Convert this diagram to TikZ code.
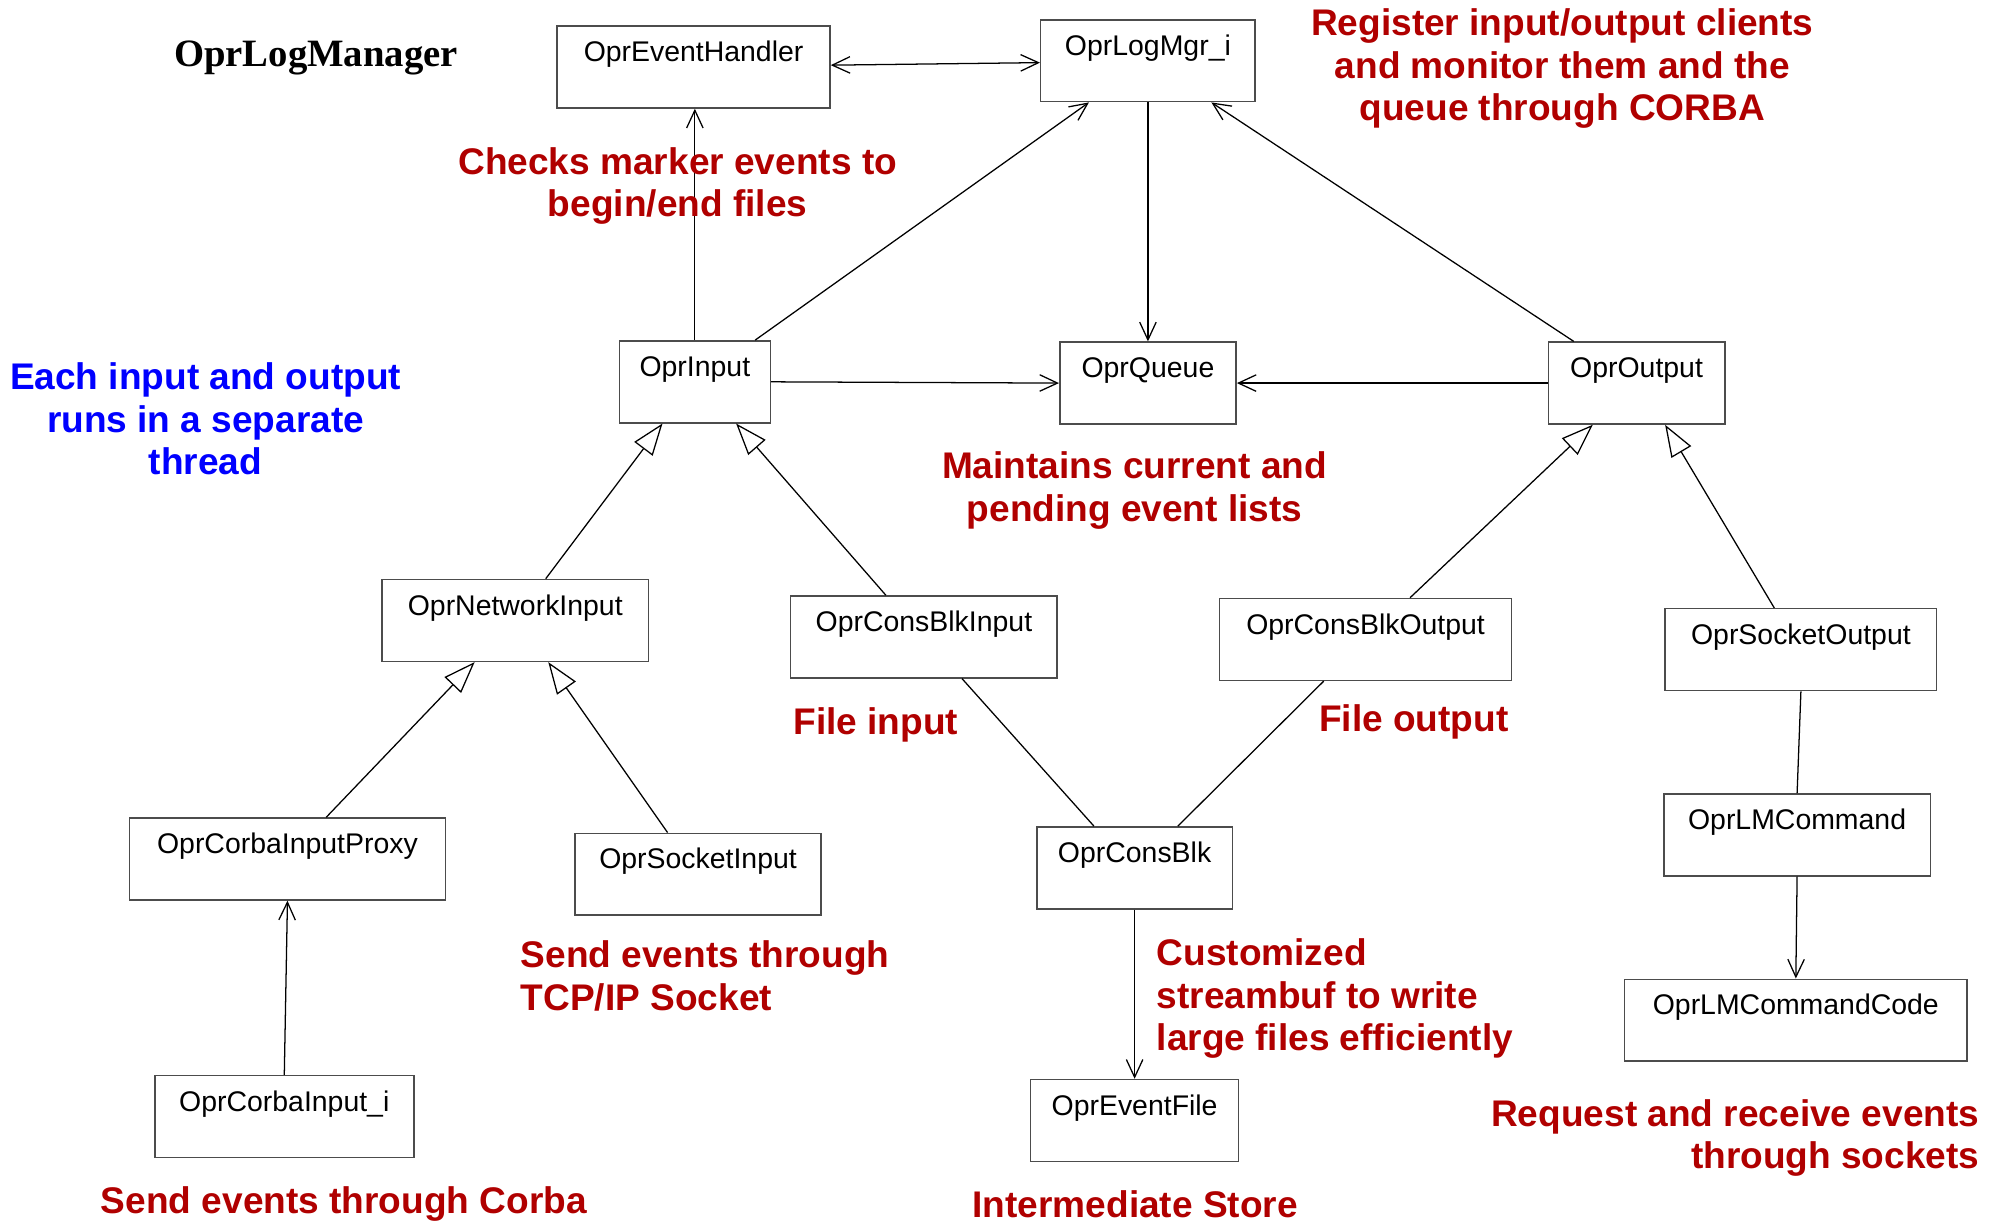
\documentclass[tikz,border=0pt]{standalone}
\usepackage{fontspec}
\setmainfont{Liberation Sans}
\newfontfamily\titlefont{Liberation Serif}
\usepackage{tikz}
\usetikzlibrary{arrows.meta,calc}
\usepackage{xcolor}
\definecolor{notered}{RGB}{176,0,0}
\definecolor{noteblue}{RGB}{0,0,255}

\tikzset{
  barb/.tip={Straight Barb[length=7pt,width=6.5pt]},
  tri/.tip={Triangle[open,length=12.5pt,width=9pt]},
  cls/.style={draw=black!70,line width=0.6pt,anchor=north,inner sep=0pt,
    font=\fontsize{11.2}{13}\selectfont,text height=14pt,text depth=18.25pt},
  link/.style={line width=0.5pt},
  assoc/.style={link,-barb},
  inherit/.style={link,-tri},
  note/.style={text=notered,inner sep=0pt,align=center,
    font=\fontsize{14.6}{16.75}\selectfont\bfseries},
}

\begin{document}
\begin{tikzpicture}[x=0.5pt,y=-0.5pt]
    \useasboundingbox (0,0) rectangle (1568,963);
    % Title
    \node[font=\titlefont\bfseries\fontsize{15.25}{18}\selectfont] (title) at (249,46) {OprLogManager};
    % Classes
    \node[cls,minimum width=107.5pt] (evh)     at (546.5,20)  {OprEventHandler};
    \node[cls,minimum width=84.5pt]  (lmgr)    at (904.5,15)  {OprLogMgr\_i};
    \node[cls,minimum width=59.5pt]  (inp)     at (547.5,268) {OprInput};
    \node[cls,minimum width=69.5pt]  (que)     at (904.5,269) {OprQueue};
    \node[cls,minimum width=69.5pt]  (outp)    at (1289.5,269) {OprOutput};
    \node[cls,minimum width=105pt]   (net)     at (406,456)   {OprNetworkInput};
    \node[cls,minimum width=105pt]   (cbin)    at (728,469)   {OprConsBlkInput};
    \node[cls,minimum width=115pt]   (cbout)   at (1076,471)  {OprConsBlkOutput};
    \node[cls,minimum width=107pt]   (sockout) at (1419,479)  {OprSocketOutput};
    \node[cls,minimum width=124.5pt] (proxy)   at (226.5,644) {OprCorbaInputProxy};
    \node[cls,minimum width=97pt]    (sockin)  at (550,656)   {OprSocketInput};
    \node[cls,minimum width=77pt]    (cblk)    at (894,651)   {OprConsBlk};
    \node[cls,minimum width=105pt]   (lmc)     at (1416,625)  {OprLMCommand};
    \node[cls,minimum width=135pt]   (lmcc)    at (1415,771)  {OprLMCommandCode};
    \node[cls,minimum width=102pt]   (corba)   at (224,847)   {OprCorbaInput\_i};
    \node[cls,minimum width=82pt]    (evf)     at (894,850)   {OprEventFile};
    % Associations
    \draw[link,barb-barb] ($(evh.east)+(0,-1.5)$) -- ($(lmgr.west)+(0,1.5)$);
    \draw[assoc] (inp.north) -- (inp.north |- evh.south);
    \draw[assoc] ($(inp.north)+(47.5,0)$) -- ($(lmgr.south)+(-46.5,0)$);
    \draw[assoc] (lmgr.south) -- (que.north);
    \draw[assoc] ($(outp.north)+(-49.5,0)$) -- ($(lmgr.south)+(50,0)$);
    \draw[assoc] (inp.east) -- (que.west);
    \draw[assoc] (outp.west) -- (que.east);
    \draw[assoc] (cblk.south) -- (evf.north);
    \draw[assoc] (lmc.south) -- (lmcc.north);
    \draw[assoc] (corba.north) -- (proxy.south);
    \draw[link] ($(cbin.south)+(30,0)$) -- ($(cblk.north)+(-32,0)$);
    \draw[link] ($(cbout.south)+(-33,0)$) -- ($(cblk.north)+(34,0)$);
    \draw[link] (sockout.south) -- (lmc.north);
    % Inheritance
    \draw[inherit] ($(net.north)+(24,0)$) -- ($(inp.south)+(-25.5,0)$);
    \draw[inherit] ($(cbin.north)+(-30,0)$) -- ($(inp.south)+(32.5,0)$);
    \draw[inherit] ($(cbout.north)+(35,0)$) -- ($(outp.south)+(-34.5,0)$);
    \draw[inherit] ($(sockout.north)+(-21,0)$) -- ($(outp.south)+(22.5,0)$);
    \draw[inherit] ($(proxy.north)+(30.5,0)$) -- ($(net.south)+(-32,0)$);
    \draw[inherit] ($(sockin.north)+(-24,0)$) -- ($(net.south)+(26,0)$);
    % Notes
    \node[note] (reg) at (1231,54) {Register input/output clients\\and monitor them and the\\queue through CORBA};
    \node[note] (chk) at (534,146.5) {Checks marker events to\\begin/end files};
    \node[note,text=noteblue] (thr) at (162,330) {Each input and output\\runs in a separate\\thread};
    \node[note] (mnt) at (894,386.5) {Maintains current and\\pending event lists};
    \node[note] (fin) at (690,571) {File input};
    \node[note] (fout) at (1114,569) {File output};
    \node[note,anchor=west,align=left] (tcp) at (410,769) {Send events through\\TCP/IP Socket};
    \node[note,anchor=west,align=left] (cust) at (911,787) {Customized\\streambuf to write\\large files efficiently};
    \node[note,anchor=east,align=right] (req) at (1560,896.5) {Request and receive events\\through sockets};
    \node[note] (scb) at (271,949) {Send events through Corba};
    \node[note] (ist) at (894.5,948.5) {Intermediate Store};
\end{tikzpicture}
\end{document}
